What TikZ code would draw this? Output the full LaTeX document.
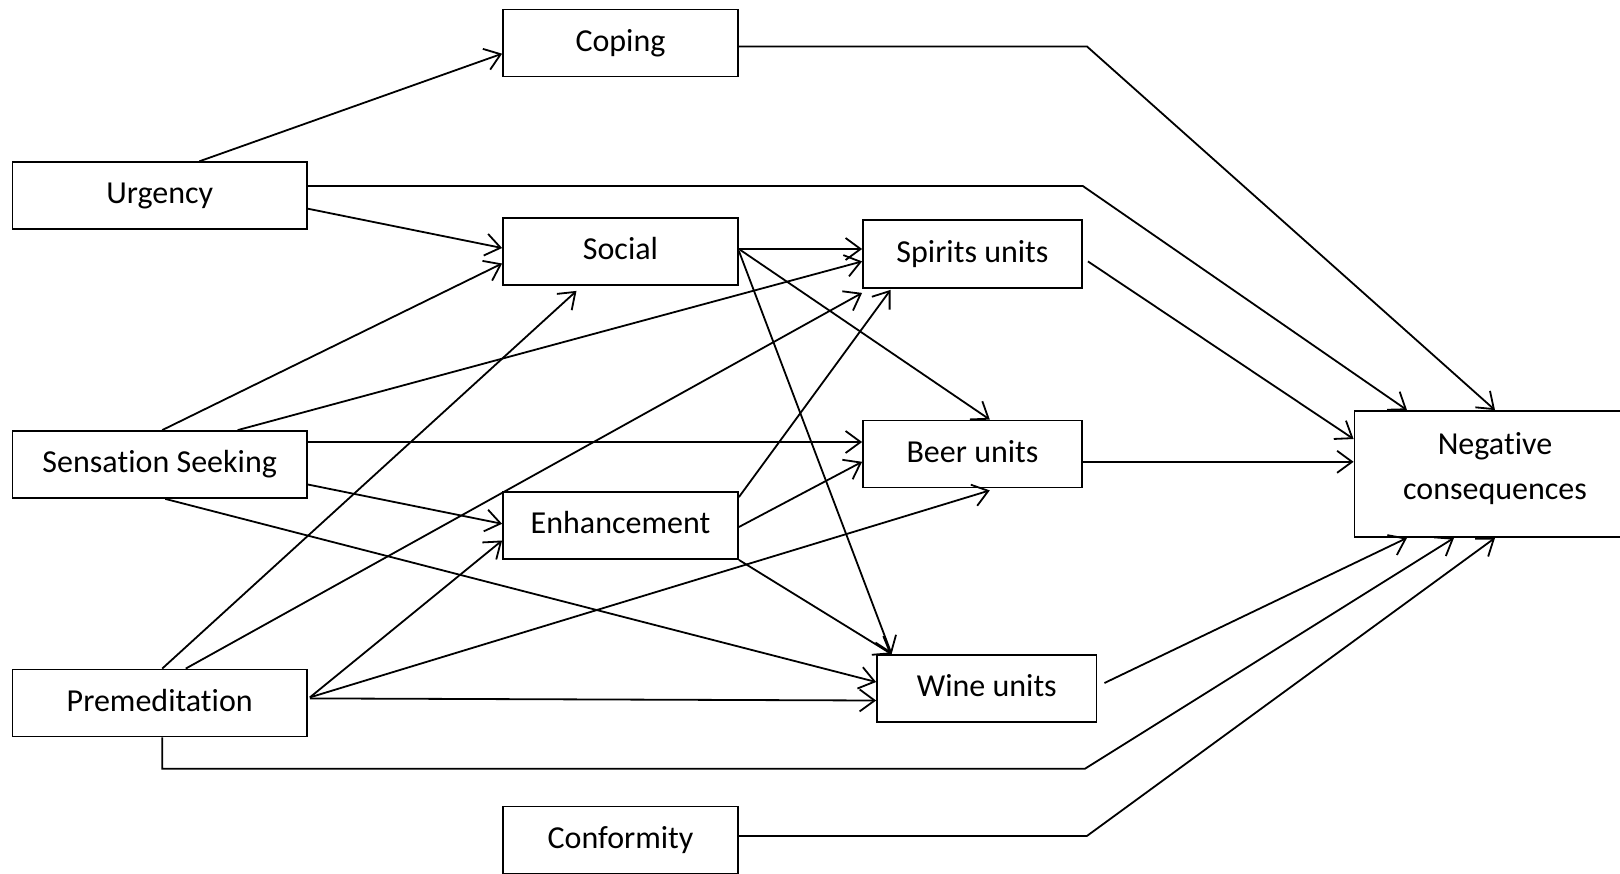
\documentclass[tikz,border=0pt]{standalone}
\usepackage{fontspec}
\setmainfont[Ligatures={NoCommon,NoRare,NoContextual},RawFeature={-liga;-clig;-dlig;-calt}]{Carlito}
\usetikzlibrary{arrows.meta}
\begin{document}
\begin{tikzpicture}[x=1pt,y=-1pt,
  box/.style={draw,line width=1.8pt,inner sep=0pt,minimum height=67pt,text height=23pt,text depth=7pt,font=\fontsize{32}{44.5}\selectfont},
  widebox/.style={box,minimum width=294.5pt},
  midbox/.style={box,minimum width=235pt},
  unitbox/.style={box,minimum width=219pt},
  conn/.style={line width=1.8pt},
  arr/.style={conn,-{Straight Barb[length=15pt,width=22pt,line width=1.8pt]}}]
\clip (0,0) rectangle (1620,873);
% nodes
\node[midbox] (cop) at (620.5,43) {Coping};
\node[widebox] (urg) at (159.7,195.7) {Urgency};
\node[midbox] (soc) at (620.5,251.5) {Social};
\node[unitbox,minimum height=68pt] (spi) at (972.5,254) {Spirits units};
\node[widebox] (sen) at (159.7,464.5) {Sensa\kern0ptt\kern0pti\kern0pton Seeking};
\node[unitbox] (beer) at (972.5,454) {Beer units};
\node[midbox] (enh) at (620.5,525.5) {Enhancement};
\node[widebox] (pre) at (159.7,703) {Premeditation};
\node[unitbox,minimum width=219.5pt] (wine) at (986.8,688.5) {Wine units};
\node[midbox] (con) at (620.5,840) {Conformity};
\node[box,minimum width=281pt,minimum height=126pt,text height=67.5pt,text depth=17.5pt,align=center] (nc) at (1495,474) {Nega\kern0ptt\kern0ptive\\consequences};
% bend points
\coordinate (ub) at (1082.8,186);
\coordinate (cb) at (1087,46.5);
\coordinate (pd) at (162.2,768.7);
\coordinate (pb) at (1085,768.7);
\coordinate (fb) at (1087,835.9);
% connectors
\draw[arr] ([xshift=39.7pt]urg.north) -- ([yshift=-10.7pt]cop.west);
\draw[arr] ([yshift=9.7pt]urg.east) -- (ub) -- ([xshift=-88pt]nc.north);
\draw[arr] ([yshift=-13pt]urg.east) -- ([yshift=3.5pt]soc.west);
\draw[arr] ([yshift=-3.5pt]cop.east) -- (cb) -- (nc.north);
\draw[arr] ([yshift=2.5pt]soc.east) -- ([yshift=5pt]spi.west);
\draw[arr] ([yshift=2.5pt]soc.east) -- ([xshift=17.3pt]beer.north);
\draw[arr] ([yshift=0.5pt]soc.east) -- ([xshift=-95.2pt]wine.north);
\draw[arr] ([xshift=2.5pt]sen.north) -- ([yshift=-12pt]soc.west);
\draw[arr] ([xshift=78pt]sen.north) -- ([yshift=-7.4pt]spi.west);
\draw[arr] ([yshift=22.5pt]sen.east) -- ([yshift=12pt]beer.west);
\draw[arr] ([yshift=-20pt]sen.east) -- ([yshift=1.7pt]enh.west);
\draw[arr] ([xshift=5.6pt]sen.south) -- ([yshift=6.5pt]wine.west);
\draw[arr] ([yshift=-6pt]enh.north east) -- ([xshift=-82pt,yshift=-1pt]spi.south);
\draw[arr] ([yshift=-1.5pt]enh.east) -- ([yshift=-7.8pt]beer.west);
\draw[arr] (enh.south east) -- ([xshift=-95.2pt]wine.north);
\draw[arr] ([xshift=2.5pt]pre.north) -- ([xshift=-44pt,yshift=-5pt]soc.south);
\draw[arr] ([xshift=26pt]pre.north) -- ([yshift=-4pt]spi.south west);
\draw[arr] ([xshift=2pt,yshift=5.6pt]pre.east) -- ([yshift=-15pt]enh.west);
\draw[arr] ([xshift=2pt,yshift=5.6pt]pre.east) -- ([xshift=17.3pt,yshift=-2pt]beer.south);
\draw[arr] ([xshift=2pt,yshift=4.6pt]pre.east) -- ([yshift=-12pt]wine.west);
\draw[arr] ([xshift=2.5pt]pre.south) -- (pd) -- (pb) -- ([xshift=-41pt]nc.south);
\draw[arr] ([yshift=4pt]con.east) -- (fb) -- (nc.south);
\draw[arr] ([shift={(5pt,-7.4pt)}]spi.east) -- ([yshift=35pt]nc.west);
\draw[arr] ([yshift=-7.8pt]beer.east) -- ([yshift=12.2pt]nc.west);
\draw[arr] ([shift={(7pt,5.5pt)}]wine.east) -- ([xshift=-88pt]nc.south);
\end{tikzpicture}
\end{document}
